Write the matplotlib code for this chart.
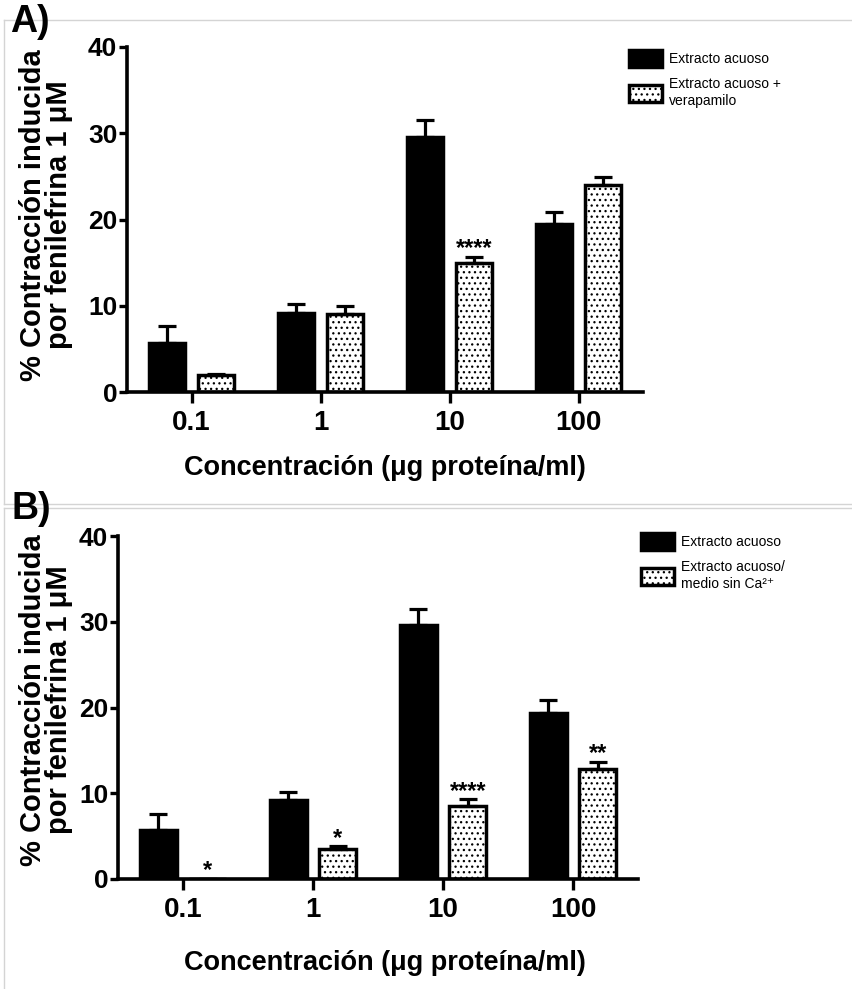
import numpy as np
import matplotlib.pyplot as plt
from matplotlib.lines import Line2D

plt.rcParams['font.family'] = ['Liberation Sans', 'DejaVu Sans']
plt.rcParams['hatch.linewidth'] = 0.9

groups = ['0.1', '1', '10', '100']

# panel A: aqueous extract vs extract + verapamil
a_black = [5.7, 9.2, 29.6, 19.5]
a_black_err = [1.9, 1.0, 1.9, 1.4]
a_dot = [2.0, 9.1, 15.0, 24.0]
a_dot_err = [0.1, 0.9, 0.7, 0.9]
a_stars = ['', '', '****', '']
a_labels = ['Extracto acuoso', 'Extracto acuoso +\nverapamilo']

# panel B: aqueous extract vs extract in Ca-free medium
b_black = [5.7, 9.2, 29.6, 19.4]
b_black_err = [1.9, 1.0, 1.9, 1.5]
b_dot = [0.0, 3.5, 8.5, 12.8]
b_dot_err = [0.0, 0.3, 0.8, 0.9]
b_stars = ['*', '*', '****', '**']
b_labels = ['Extracto acuoso', 'Extracto acuoso/\nmedio sin Ca²⁺']

W, H = 853, 989
fig = plt.figure(figsize=(W / 100, H / 100), dpi=100)


def px(x0, y0, x1, y1):
    return [x0 / W, 1 - y1 / H, (x1 - x0) / W, (y1 - y0) / H]


def panel(rect, black, berr, dot, derr, stars, labels, leg_xy, ylab_y, xlab_y):
    ax = fig.add_axes(rect)
    x = np.arange(len(groups))
    off, w = 0.19, 0.285
    ax.bar(x - off, black, w, color='black', edgecolor='black', linewidth=2.5,
           yerr=[np.zeros(4), berr], capsize=6.5,
           error_kw=dict(elinewidth=2.3, capthick=2.3, ecolor='black'),
           label=labels[0])
    ax.bar(x + off, dot, w, color='white', edgecolor='black', linewidth=2.5,
           hatch='...', yerr=[np.zeros(4), derr], capsize=6.5,
           error_kw=dict(elinewidth=2.3, capthick=2.3, ecolor='black'),
           label=labels[1])
    for i, s in enumerate(stars):
        if s:
            ax.text(x[i] + off, dot[i] + derr[i] + 0.2, s, ha='center',
                    va='baseline', fontsize=17, fontweight='bold')
    ax.set_xlim(-0.5, 3.5)
    ax.set_ylim(0, 40)
    ax.set_yticks([0, 10, 20, 30, 40])
    ax.set_xticks(x)
    ax.set_xticklabels(groups)
    for s in ['top', 'right']:
        ax.spines[s].set_visible(False)
    for s in ['left', 'bottom']:
        ax.spines[s].set_linewidth(2.6)
    ax.tick_params(axis='y', length=6, width=2.4, labelsize=19, pad=1)
    ax.tick_params(axis='x', length=8, width=2.4, labelsize=20, pad=5)
    for t in ax.get_xticklabels() + ax.get_yticklabels():
        t.set_fontweight('bold')
    ax.legend(loc='upper left', bbox_to_anchor=leg_xy, bbox_transform=fig.transFigure,
              frameon=False, fontsize=10, handlelength=2.4, handleheight=1.5,
              handletextpad=0.5, labelspacing=0.75, borderpad=0, borderaxespad=0)
    fig.text(46 / W, 1 - ylab_y / H, '% Contracción inducida\npor fenilefrina 1 μM',
             rotation=90, ha='center', va='center', multialignment='center',
             fontsize=21, fontweight='bold', linespacing=0.92)
    fig.text(385 / W, 1 - xlab_y / H, 'Concentración (μg proteína/ml)',
             ha='center', va='center', fontsize=19.5, fontweight='bold')
    return ax


panel(px(127, 47, 643, 392), a_black, a_black_err, a_dot, a_dot_err, a_stars,
      a_labels, (629 / W, 1 - 50 / H), 215, 468)
panel(px(118, 536, 638, 879), b_black, b_black_err, b_dot, b_dot_err, b_stars,
      b_labels, (641 / W, 1 - 533 / H), 700, 963)

# light grey frame lines around the two panels
g = '#d4d4d4'
fig.add_artist(Line2D([4 / W, 1], [1 - 20 / H, 1 - 20 / H], color=g, lw=1))
fig.add_artist(Line2D([4 / W, 4 / W], [1 - 20 / H, 1 - 504 / H], color=g, lw=1))
fig.add_artist(Line2D([4 / W, 1], [1 - 504 / H, 1 - 504 / H], color=g, lw=1))
fig.add_artist(Line2D([4 / W, 1], [1 - 508 / H, 1 - 508 / H], color=g, lw=1))
fig.add_artist(Line2D([4 / W, 4 / W], [1 - 508 / H, 0], color=g, lw=1))

fig.text(10 / W, 1 - 22 / H, 'A)', fontsize=27, fontweight='bold', va='center')
fig.text(12 / W, 1 - 509 / H, 'B)', fontsize=27, fontweight='bold', va='center')

fig.savefig('out.png', dpi=100)
